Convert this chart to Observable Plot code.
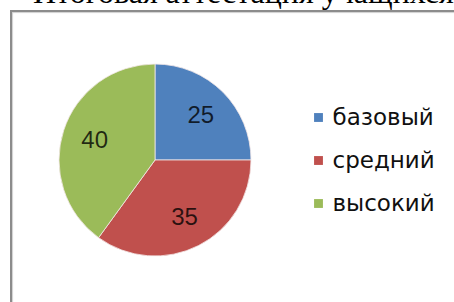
<!DOCTYPE html>
<html>
<head>
<meta charset="utf-8">
<script src="https://cdn.jsdelivr.net/npm/d3@7"></script>
<script src="https://cdn.jsdelivr.net/npm/@observablehq/plot@0.6"></script>
<style>
  html, body { margin: 0; padding: 0; background: #fff; width: 454px; height: 302px; overflow: hidden; }
  #title { position: absolute; left: 33px; top: -24px; font-family: "Liberation Serif", "DejaVu Serif", serif; font-size: 32px; line-height: 32px; color: #000; white-space: nowrap; }
  #frame { position: absolute; left: 10px; top: 10px; width: 470px; height: 320px; border-left: 2px solid #8c8c8c; border-top: 2px solid #8c8c8c; box-shadow: inset 1px 1px 1px #d0d0d0; }
  #chart { position: absolute; left: 0; top: 0; }
</style>
</head>
<body>
<div id="title">Итоговая аттестация учащихся</div>
<div id="frame"></div>
<div id="chart"></div>
<script>
const categories = ["базовый", "средний", "высокий"];
const values = [25, 35, 40];
const colors = ["#4F81BD", "#C0504D", "#9BBB59"];

const W = 454, H = 302;
const cx = 155, cy = 160, R = 96, labelR = 64;
const legendX = 313, legendY0 = 117, legendStep = 43;

const pie = d3.pie().sort(null).value(d => d.value);
const arcs = pie(categories.map((c, i) => ({category: c, value: values[i]})));
const labelArc = d3.arc().innerRadius(labelR).outerRadius(labelR);
const labels = arcs.map(a => {
  const [lx, ly] = labelArc.centroid(a);
  return {x: cx + lx, y: cy + ly, text: String(a.data.value)};
});
const legend = categories.map((c, i) => ({x: legendX, y: legendY0 + i * legendStep, category: c}));

const pieMark = (index, scales) => {
  const g = d3.create("svg:g");
  const arc = d3.arc().innerRadius(0).outerRadius(R);
  g.selectAll("path").data(arcs).join("path")
    .attr("transform", `translate(${scales.x(cx)},${scales.y(cy)})`)
    .attr("d", arc)
    .attr("fill", d => scales.color(d.data.category))
    .attr("stroke", "#f4e8e8")
    .attr("stroke-width", 0.8);
  return g.node();
};

const chart = Plot.plot({
  width: W,
  height: H,
  margin: 0,
  x: {domain: [0, W], range: [0, W], axis: null},
  y: {domain: [0, H], range: [0, H], axis: null},
  color: {domain: categories, range: colors},
  style: {background: "transparent", overflow: "visible"},
  marks: [
    pieMark,
    Plot.text(labels, {x: "x", y: "y", text: "text", fill: "#000", fillOpacity: 0.78,
      fontSize: 24, fontFamily: "Liberation Sans, Arial, sans-serif", textAnchor: "middle", lineAnchor: "middle"}),
    Plot.dot(legend, {x: "x", y: "y", symbol: "square", r: 5, fill: "category", stroke: "none", dx: 5}),
    Plot.text(legend, {x: "x", y: "y", text: "category", dx: 19, textAnchor: "start", lineAnchor: "middle",
      fontSize: 23, fontFamily: "DejaVu Sans, sans-serif", fill: "#101010"})
  ]
});
document.getElementById("chart").appendChild(chart);
</script>
</body>
</html>
